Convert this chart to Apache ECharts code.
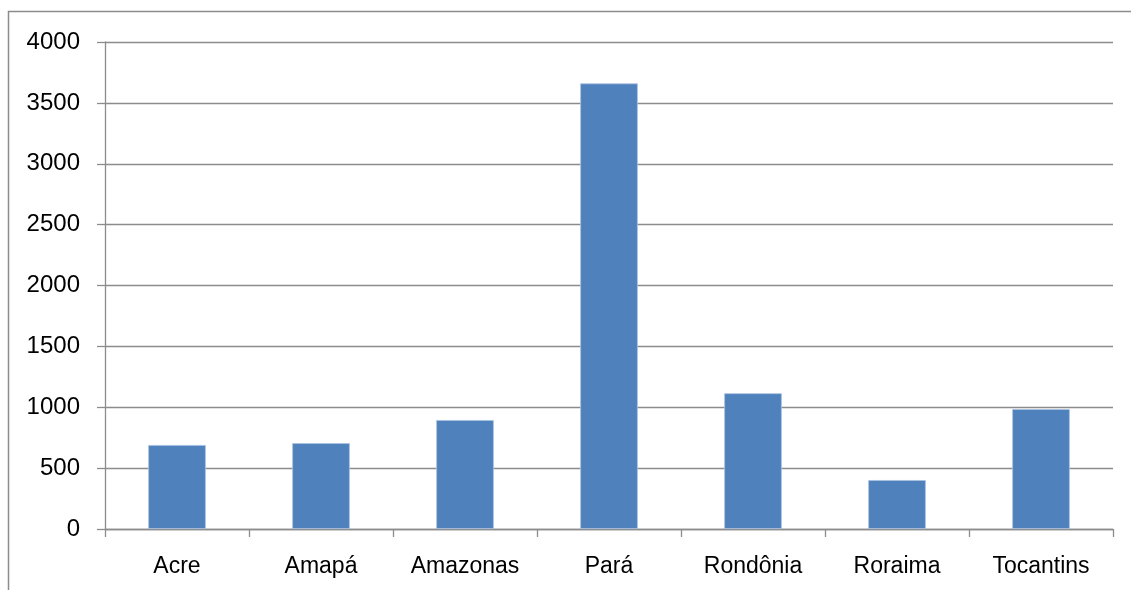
<!DOCTYPE html>
<html>
<head>
<meta charset="utf-8">
<script src="https://cdn.jsdelivr.net/npm/echarts@6/dist/echarts.min.js"></script>
<style>html,body{margin:0;padding:0;background:#fff}#c{width:1131px;height:590px}</style>
</head>
<body>
<div id="c"></div>
<script>
const categories = ['Acre', 'Amapá', 'Amazonas', 'Pará', 'Rondônia', 'Roraima', 'Tocantins'];
const values = [690, 705, 895, 3660, 1115, 402, 985];
const yTicks = [0, 500, 1000, 1500, 2000, 2500, 3000, 3500, 4000];

const chart = echarts.init(document.getElementById('c'), null, {renderer: 'canvas'});
const font = 'Liberation Sans';
chart.setOption({
  animation: false,
  backgroundColor: '#ffffff',
  graphic: [{
    type: 'rect',
    shape: {x: 8.5, y: 11.5, width: 1140, height: 600},
    style: {fill: 'none', stroke: '#8c8c8c', lineWidth: 1.5},
    silent: true
  }],
  grid: {left: 105, right: 18, top: 42, bottom: 61, containLabel: false},
  xAxis: {
    type: 'category',
    data: categories,
    axisLine: {show: true, lineStyle: {color: '#8c8c8c', width: 1.3}},
    axisTick: {show: true, interval: 0, alignWithLabel: false, length: 8, lineStyle: {color: '#8c8c8c', width: 1.3}},
    axisLabel: {color: '#000', fontFamily: font, fontSize: 23, margin: 26, interval: 0, hideOverlap: false},
    splitLine: {show: false}
  },
  yAxis: {
    type: 'value',
    min: yTicks[0],
    max: yTicks[yTicks.length - 1],
    interval: 500,
    axisLine: {show: true, lineStyle: {color: '#8c8c8c', width: 1.3}},
    axisTick: {show: true, length: 8, lineStyle: {color: '#8c8c8c', width: 1.3}},
    axisLabel: {color: '#000', fontFamily: font, fontSize: 24, margin: 25, formatter: v => String(v)},
    splitLine: {show: true, lineStyle: {color: '#8c8c8c', width: 1.3}}
  },
  series: [{
    type: 'bar',
    data: values,
    barWidth: '40%',
    itemStyle: {color: '#4f81bd', borderColor: '#a9c1e0', borderWidth: 0.8}
  }]
});
</script>
</body>
</html>
